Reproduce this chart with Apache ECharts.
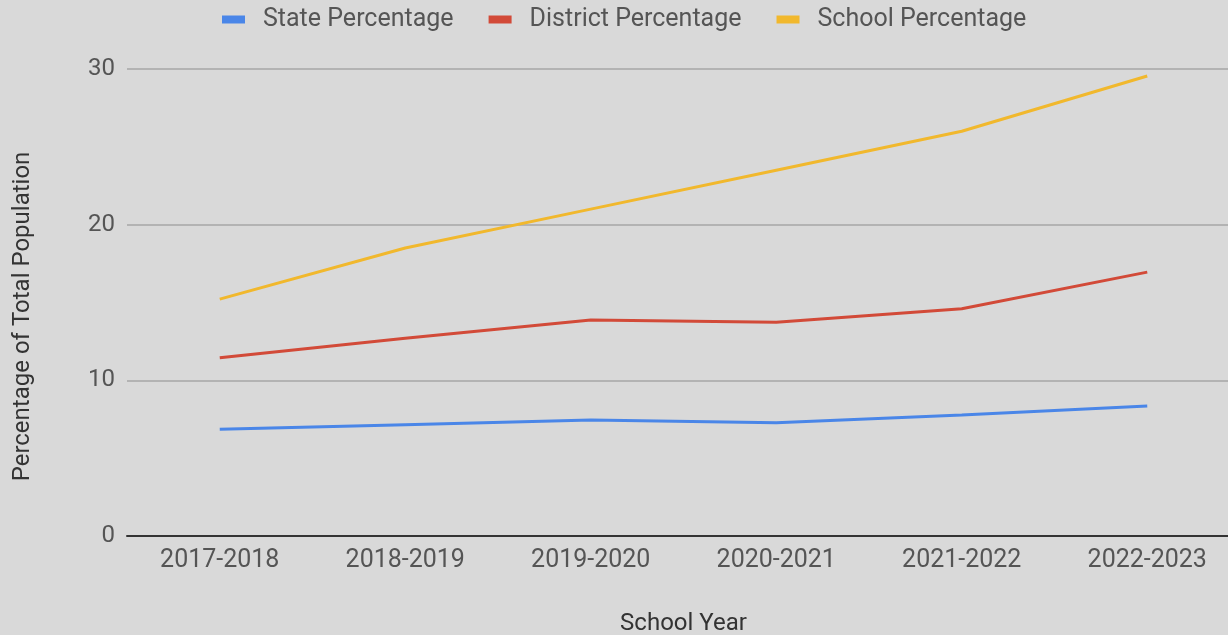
<!DOCTYPE html>
<html>
<head>
<meta charset="utf-8">
<script src="https://cdn.jsdelivr.net/npm/echarts@6/dist/echarts.min.js"></script>
<style>
html,body{margin:0;padding:0;background:#d9d9d9;}
#c{width:1228px;height:635px;}
</style>
</head>
<body>
<div id="c"></div>
<script>
const categories = ['2017-2018','2018-2019','2019-2020','2020-2021','2021-2022','2022-2023'];
const stateValues = [6.85, 7.15, 7.45, 7.28, 7.77, 8.35];
const districtValues = [11.45, 12.7, 13.87, 13.73, 14.6, 16.95];
const schoolValues = [15.22, 18.5, 21.0, 23.5, 26.0, 29.55];
const yTicks = [0, 10, 20, 30];

const chart = echarts.init(document.getElementById('c'));
const lineStyle = (c) => ({ width: 3, color: c });
chart.setOption({
  backgroundColor: '#d9d9d9',
  textStyle: { fontFamily: 'Roboto' },
  legend: {
    top: 2,
    left: 217,
    itemWidth: 23,
    itemHeight: 8,
    itemGap: 35,
    icon: 'rect',
    textStyle: { fontSize: 25, color: '#555', fontFamily: 'Roboto', padding: [0, 0, 0, 13] },
    data: ['State Percentage', 'District Percentage', 'School Percentage']
  },
  grid: { left: 127, right: -12, top: 69, bottom: 99, containLabel: false, outerBoundsMode: 'none' },
  xAxis: {
    type: 'category',
    data: categories,
    boundaryGap: true,
    name: 'School Year',
    nameLocation: 'middle',
    nameGap: 76,
    nameTextStyle: { fontSize: 24, color: '#333', fontFamily: 'Roboto' },
    axisLine: { lineStyle: { color: '#333', width: 2 } },
    axisTick: { show: false },
    axisLabel: { fontSize: 25, color: '#555', margin: 12, fontFamily: 'Roboto' }
  },
  yAxis: {
    type: 'value',
    min: 0,
    max: 30,
    interval: 10,
    name: 'Percentage of Total Population',
    nameLocation: 'middle',
    nameGap: 92,
    nameTextStyle: { fontSize: 24, color: '#333', fontFamily: 'Roboto', padding: [0, 28, 0, 0] },
    axisLine: { show: false },
    axisTick: { show: false },
    axisLabel: {
      fontSize: 24, color: '#555', margin: 12, fontFamily: 'Roboto',
      formatter: (v) => yTicks.includes(v) ? String(v) : ''
    },
    splitLine: { lineStyle: { color: '#b3b3b3', width: 2 } }
  },
  series: [
    { name: 'State Percentage', type: 'line', data: stateValues, symbol: 'none', color: '#4a86e8', lineStyle: lineStyle('#4a86e8') },
    { name: 'District Percentage', type: 'line', data: districtValues, symbol: 'none', color: '#d24a38', lineStyle: lineStyle('#d24a38') },
    { name: 'School Percentage', type: 'line', data: schoolValues, symbol: 'none', color: '#f1b82d', lineStyle: lineStyle('#f1b82d') }
  ],
  animation: false
});
</script>
</body>
</html>
